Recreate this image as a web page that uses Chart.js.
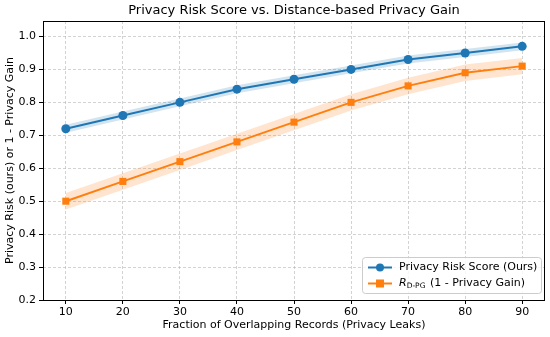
<!DOCTYPE html>
<html><head><meta charset="utf-8">
<script src="https://cdn.jsdelivr.net/npm/chart.js@4"></script>
<style>html,body{margin:0;padding:0;background:#fff}#wrap{width:550px;height:337px}</style>
</head><body><div id="wrap"><canvas id="c" width="550" height="337"></canvas></div>
<script>
const fractions = [10, 20, 30, 40, 50, 60, 70, 80, 90];
const riskScore = [0.72, 0.76, 0.80, 0.84, 0.87, 0.90, 0.93, 0.95, 0.97];
const riskLow   = [0.708, 0.748, 0.788, 0.828, 0.858, 0.888, 0.918, 0.938, 0.958];
const riskHigh  = [0.732, 0.772, 0.812, 0.852, 0.882, 0.912, 0.942, 0.962, 0.982];
const dpg       = [0.50, 0.56, 0.62, 0.68, 0.74, 0.80, 0.85, 0.89, 0.91];
const dpgLow    = [0.475, 0.535, 0.595, 0.655, 0.715, 0.775, 0.825, 0.865, 0.885];
const dpgHigh   = [0.525, 0.585, 0.645, 0.705, 0.765, 0.825, 0.875, 0.915, 0.935];
const yTicks = [0.2, 0.3, 0.4, 0.5, 0.6, 0.7, 0.8, 0.9, 1.0];
const FONT = "'DejaVu Sans', sans-serif";
const BLUE = '#1f77b4', ORANGE = '#ff7f0e';

const pts = (ys) => fractions.map((x, i) => ({x, y: ys[i]}));

const extras = {
  id: 'extras',
  afterDraw(chart) {
    const ctx = chart.ctx, a = chart.chartArea;
    ctx.save();
    // frame
    ctx.strokeStyle = '#000'; ctx.lineWidth = 1;
    ctx.strokeRect(Math.round(a.left) + 0.5, Math.round(a.top) + 0.5, Math.round(a.right - a.left) - 1, Math.round(a.bottom - a.top));
    // title
    ctx.fillStyle = '#000';
    ctx.font = '13px ' + FONT;
    ctx.textAlign = 'center'; ctx.textBaseline = 'middle';
    ctx.fillText('Privacy Risk Score vs. Distance-based Privacy Gain', (a.left + a.right) / 2, 11);
    // axis titles
    ctx.font = '11px ' + FONT;
    ctx.fillText('Fraction of Overlapping Records (Privacy Leaks)', (a.left + a.right) / 2, 325.5);
    ctx.save();
    ctx.translate(10.5, (a.top + a.bottom) / 2);
    ctx.rotate(-Math.PI / 2);
    ctx.fillText('Privacy Risk (ours) or 1 - Privacy Gain', 0, 0);
    ctx.restore();
    // legend
    const lx = 362.5, ly = 257.5, lw = 179, lh = 36;
    ctx.fillStyle = 'rgba(255,255,255,0.8)';
    ctx.strokeStyle = '#cccccc';
    ctx.beginPath();
    if (ctx.roundRect) ctx.roundRect(lx, ly, lw, lh, 3); else ctx.rect(lx, ly, lw, lh);
    ctx.fill(); ctx.stroke();
    const rows = [ly + 10, ly + 26];
    ctx.strokeStyle = BLUE; ctx.lineWidth = 2;
    ctx.beginPath(); ctx.moveTo(368, rows[0]); ctx.lineTo(392, rows[0]); ctx.stroke();
    ctx.fillStyle = BLUE;
    ctx.beginPath(); ctx.arc(380, rows[0], 4, 0, Math.PI * 2); ctx.fill();
    ctx.strokeStyle = ORANGE;
    ctx.beginPath(); ctx.moveTo(368, rows[1]); ctx.lineTo(392, rows[1]); ctx.stroke();
    ctx.fillStyle = ORANGE;
    ctx.fillRect(376, rows[1] - 4, 8, 8);
    ctx.fillStyle = '#000';
    ctx.textAlign = 'left'; ctx.textBaseline = 'middle';
    ctx.font = '11px ' + FONT;
    ctx.fillText('Privacy Risk Score (Ours)', 399, rows[0]);
    ctx.font = 'italic 11px ' + FONT;
    ctx.fillText('R', 399, rows[1]);
    let x = 399 + ctx.measureText('R').width;
    ctx.font = '7.5px ' + FONT;
    ctx.fillText('D-PG', x, rows[1] + 3);
    x += ctx.measureText('D-PG').width + 1;
    ctx.font = '11px ' + FONT;
    ctx.fillText(' (1 - Privacy Gain)', x, rows[1]);
    ctx.restore();
  }
};

new Chart(document.getElementById('c'), {
  type: 'line',
  data: {
    datasets: [
      {data: pts(riskLow), borderWidth: 0, pointRadius: 0, fill: false, backgroundColor: 'rgba(31,119,180,0.2)'},
      {data: pts(riskHigh), borderWidth: 0, pointRadius: 0, fill: '-1', backgroundColor: 'rgba(31,119,180,0.2)'},
      {data: pts(dpgLow), borderWidth: 0, pointRadius: 0, fill: false, backgroundColor: 'rgba(255,127,14,0.2)'},
      {data: pts(dpgHigh), borderWidth: 0, pointRadius: 0, fill: '-1', backgroundColor: 'rgba(255,127,14,0.2)'},
      {label: 'Privacy Risk Score (Ours)', data: pts(riskScore), borderColor: BLUE, backgroundColor: BLUE, borderWidth: 2, pointStyle: 'circle', pointRadius: 4.5, pointBorderWidth: 0, fill: false},
      {label: 'R_D-PG (1 - Privacy Gain)', data: pts(dpg), borderColor: ORANGE, backgroundColor: ORANGE, borderWidth: 2, pointStyle: 'rect', pointRadius: 5, pointBorderWidth: 0, fill: false}
    ]
  },
  options: {
    responsive: false, animation: false, devicePixelRatio: 1,
    layout: {padding: {top: 21, right: 5, left: 0, bottom: 0}},
    plugins: {legend: {display: false}, tooltip: {enabled: false}, title: {display: false}},
    elements: {line: {tension: 0}},
    scales: {
      x: {
        type: 'linear', min: 6, max: 94,
        afterBuildTicks: (s) => { s.ticks = fractions.map(v => ({value: v})); },
        afterFit: (s) => { s.height = 37; },
        ticks: {color: '#000', font: {family: FONT, size: 11}, padding: 2, maxRotation: 0, autoSkip: false},
        grid: {color: 'rgba(176,176,176,0.7)', lineWidth: 0.8, tickLength: 4, tickColor: '#000', tickWidth: 1},
        border: {display: false, dash: [3, 2]}
      },
      y: {
        type: 'linear', min: 0.2, max: 1.047,
        afterBuildTicks: (s) => { s.ticks = yTicks.map(v => ({value: v})); },
        afterFit: (s) => { s.width = 43; },
        ticks: {color: '#000', font: {family: FONT, size: 11}, padding: 3, callback: (v) => v.toFixed(1)},
        grid: {color: 'rgba(176,176,176,0.7)', lineWidth: 0.8, tickLength: 4, tickColor: '#000', tickWidth: 1},
        border: {display: false, dash: [3, 2]}
      }
    }
  },
  plugins: [extras]
});
</script></body></html>
